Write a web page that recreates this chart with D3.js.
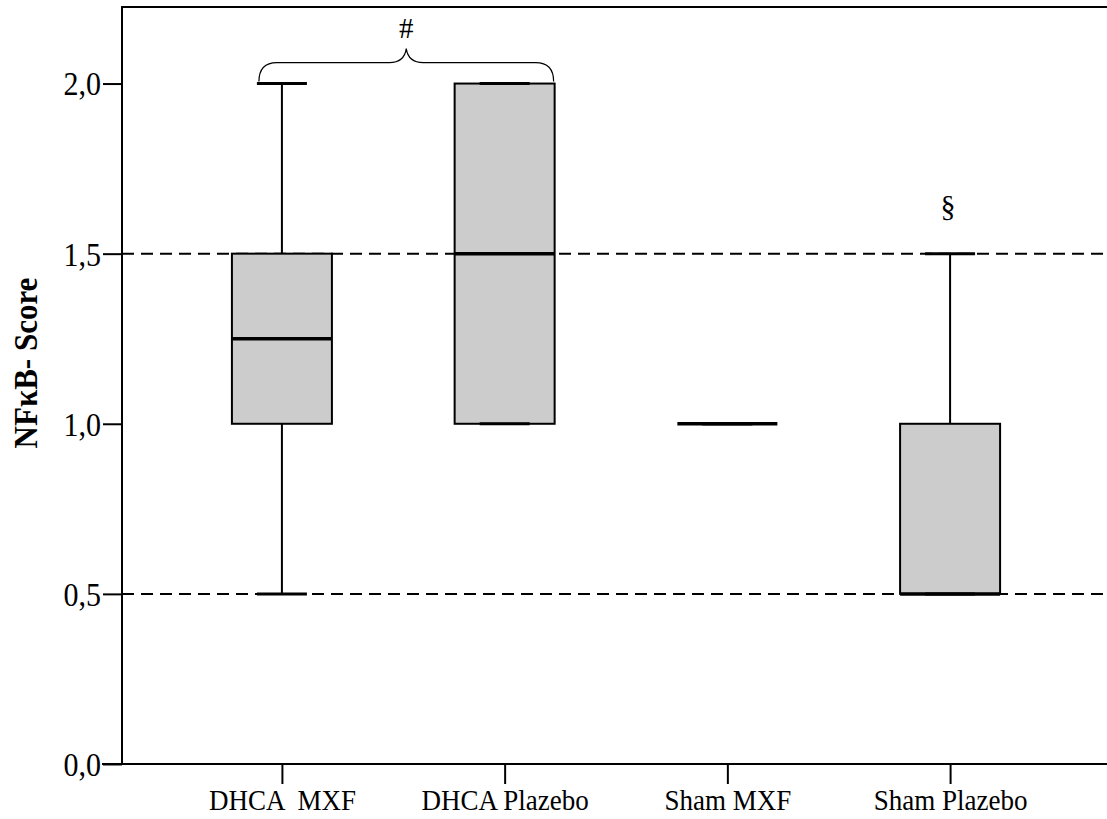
<!DOCTYPE html>
<html>
<head>
<meta charset="utf-8">
<script src="https://cdn.jsdelivr.net/npm/d3@7"></script>
<style>
  body { margin: 0; background: #fff; }
  text { font-family: "Liberation Serif", "Times New Roman", serif; }
</style>
</head>
<body>
<div id="holder"></div>
<script>
const w = 1107;
const h = 819;

// DATA
const categories = ["DHCA  MXF", "DHCA Plazebo", "Sham MXF", "Sham Plazebo"];
const mins    = [0.5, 1.0, 1.0, 0.5];
const q1s     = [1.0, 1.0, 1.0, 0.5];
const medians = [1.25, 1.5, 1.0, 0.5];
const q3s     = [1.5, 2.0, 1.0, 1.0];
const maxs    = [2.0, 2.0, 1.0, 1.5];
const yTicks = [0, 0.5, 1.0, 1.5, 2.0];
const refLines = [0.5, 1.5];
const braceFrom = "DHCA  MXF", braceTo = "DHCA Plazebo", braceLabel = "#";
const markCat = "Sham Plazebo", markLabel = "§";

const plotLeft = 122, plotRight = 1110, plotTop = 7, plotBottom = 764;
const yMax = 2.225;
const boxW = 100, capW = 50;

const svg = d3.select("#holder")
    .append("svg")
    .attr("width", w)
    .attr("height", h)

const x = d3.scalePoint()
    .domain(categories)
    .range([plotLeft, plotRight])
    .padding(0.718)

const y = d3.scaleLinear()
    .domain([0, yMax])
    .range([plotBottom, plotTop])

// keep the width of the nominal size but make glyphs taller
function tallText(sel, size, stretch) {
    sel.attr("font-size", size).each(function () {
        const len = this.getComputedTextLength();
        d3.select(this)
            .attr("font-size", size * stretch)
            .attr("textLength", len)
            .attr("lengthAdjust", "spacingAndGlyphs");
    });
}

// REFERENCE LINES
svg.selectAll(".ref")
    .data(refLines)
    .enter()
    .append("line")
    .attr("x1", plotLeft)
    .attr("x2", plotRight)
    .attr("y1", d => y(d))
    .attr("y2", d => y(d))
    .attr("stroke", "#000")
    .attr("stroke-width", 2)
    .attr("stroke-dasharray", "12,7")

// TOP FRAME
svg.append("line")
    .attr("x1", plotLeft).attr("x2", plotRight)
    .attr("y1", y(yMax)).attr("y2", y(yMax))
    .attr("stroke", "#000").attr("stroke-width", 2)

const boxes = categories.map((c, i) => ({
    cat: c, min: mins[i], q1: q1s[i], med: medians[i], q3: q3s[i], max: maxs[i]
}));

const g = svg.selectAll(".box")
    .data(boxes)
    .enter()
    .append("g")
    .attr("class", "box")

// whiskers
g.append("line")
    .attr("x1", d => x(d.cat)).attr("x2", d => x(d.cat))
    .attr("y1", d => y(d.max)).attr("y2", d => y(d.q3))
    .attr("stroke", "#000").attr("stroke-width", 2)
g.append("line")
    .attr("x1", d => x(d.cat)).attr("x2", d => x(d.cat))
    .attr("y1", d => y(d.q1)).attr("y2", d => y(d.min))
    .attr("stroke", "#000").attr("stroke-width", 2)

// boxes
g.filter(d => d.q3 > d.q1)
    .append("rect")
    .attr("x", d => x(d.cat) - boxW / 2)
    .attr("width", boxW)
    .attr("y", d => y(d.q3))
    .attr("height", d => y(d.q1) - y(d.q3))
    .attr("fill", "#cccccc")
    .attr("stroke", "#000")
    .attr("stroke-width", 2)

// caps
g.append("line")
    .attr("x1", d => x(d.cat) - capW / 2).attr("x2", d => x(d.cat) + capW / 2)
    .attr("y1", d => y(d.max)).attr("y2", d => y(d.max))
    .attr("stroke", "#000").attr("stroke-width", 3)
g.append("line")
    .attr("x1", d => x(d.cat) - capW / 2).attr("x2", d => x(d.cat) + capW / 2)
    .attr("y1", d => y(d.min)).attr("y2", d => y(d.min))
    .attr("stroke", "#000").attr("stroke-width", 3)

// medians
g.append("line")
    .attr("x1", d => x(d.cat) - boxW / 2).attr("x2", d => x(d.cat) + boxW / 2)
    .attr("y1", d => y(d.med)).attr("y2", d => y(d.med))
    .attr("stroke", "#000").attr("stroke-width", 3.5)

// Y AXIS
const yAxis = d3.axisLeft(y)
    .tickValues(yTicks)
    .tickSize(19)
    .tickPadding(2)
    .tickFormat(d => d3.format(".1f")(d).replace(".", ","))

const ya = svg.append("g")
    .attr("transform", "translate(" + plotLeft + ",0)")
    .call(yAxis)
ya.select(".domain").remove()
ya.selectAll("line").attr("stroke-width", 2)
ya.selectAll("text")
    .attr("font-family", "Liberation Serif")
    .attr("fill", "#000")
    .attr("dy", "0.34em")
    .call(tallText, 30, 1.12)
ya.append("line")
    .attr("x1", 0).attr("x2", 0)
    .attr("y1", y(yMax) - 1).attr("y2", plotBottom + 1)
    .attr("stroke", "#000").attr("stroke-width", 2)

// X AXIS
const xAxis = d3.axisBottom(x)
    .tickSize(20)
    .tickPadding(6)

const xa = svg.append("g")
    .attr("transform", "translate(0," + plotBottom + ")")
    .call(xAxis)
xa.select(".domain").remove()
xa.selectAll("line").attr("stroke-width", 2)
xa.selectAll("text")
    .attr("font-family", "Liberation Serif")
    .attr("fill", "#000")
    .style("white-space", "pre")
    .attr("dy", "0.66em")
    .call(tallText, 27, 1.12)
xa.append("line")
    .attr("x1", -20 + plotLeft).attr("x2", plotRight)
    .attr("y1", 0).attr("y2", 0)
    .attr("stroke", "#000").attr("stroke-width", 2)

// Y TITLE
svg.append("text")
    .attr("transform", "translate(25,363) rotate(-90)")
    .attr("text-anchor", "middle")
    .attr("dy", "0.35em")
    .attr("font-weight", "bold")
    .text("NFκB- Score")
    .call(tallText, 31, 1.08)

// BRACE
const bx0 = x(braceFrom) - 23, bx1 = x(braceTo) + 49;
const bmid = (bx0 + bx1) / 2;
const by0 = y(2.0) - 2, by1 = by0 - 19, tip = by0 - 33;
const p = d3.path();
p.moveTo(bx0, by0);
p.quadraticCurveTo(bx0, by1, bx0 + 18, by1);
p.lineTo(bmid - 17, by1);
p.quadraticCurveTo(bmid - 2, by1, bmid, tip);
p.quadraticCurveTo(bmid + 2, by1, bmid + 17, by1);
p.lineTo(bx1 - 18, by1);
p.quadraticCurveTo(bx1, by1, bx1, by0);
svg.append("path")
    .attr("d", p.toString())
    .attr("fill", "none")
    .attr("stroke", "#000")
    .attr("stroke-width", 1.2)

svg.append("text")
    .attr("x", bmid)
    .attr("y", tip - 11)
    .attr("text-anchor", "middle")
    .attr("font-size", 29)
    .text(braceLabel)

svg.append("text")
    .attr("x", x(markCat) - 2)
    .attr("y", y(1.5) - 38)
    .attr("text-anchor", "middle")
    .attr("font-size", 30)
    .text(markLabel)
</script>
</body>
</html>
